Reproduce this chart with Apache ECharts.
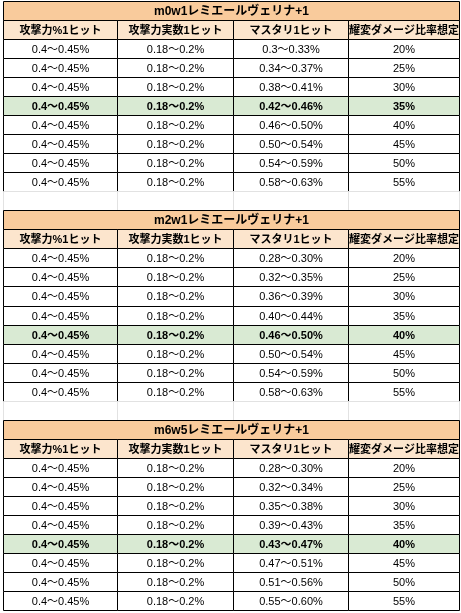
<!DOCTYPE html>
<html><head><meta charset="utf-8">
<script src="https://cdn.jsdelivr.net/npm/echarts@6/dist/echarts.min.js"></script>
<style>html,body{margin:0;padding:0;background:#fff}#c{width:461px;height:613px}</style>
</head><body><div id="c"></div>
<script>
const titles = ["m0w1レミエールヴェリナ+1", "m2w1レミエールヴェリナ+1", "m6w5レミエールヴェリナ+1"];
const headers = ["攻撃力%1ヒット", "攻撃力実数1ヒット", "マスタリ1ヒット", "耀変ダメージ比率想定"];
const atkPct = ["0.4〜0.45%","0.4〜0.45%","0.4〜0.45%","0.4〜0.45%","0.4〜0.45%","0.4〜0.45%","0.4〜0.45%","0.4〜0.45%"];
const atkFlat = ["0.18〜0.2%","0.18〜0.2%","0.18〜0.2%","0.18〜0.2%","0.18〜0.2%","0.18〜0.2%","0.18〜0.2%","0.18〜0.2%"];
const mastery1 = ["0.3〜0.33%","0.34〜0.37%","0.38〜0.41%","0.42〜0.46%","0.46〜0.50%","0.50〜0.54%","0.54〜0.59%","0.58〜0.63%"];
const mastery2 = ["0.28〜0.30%","0.32〜0.35%","0.36〜0.39%","0.40〜0.44%","0.46〜0.50%","0.50〜0.54%","0.54〜0.59%","0.58〜0.63%"];
const mastery3 = ["0.28〜0.30%","0.32〜0.34%","0.35〜0.38%","0.39〜0.43%","0.43〜0.47%","0.47〜0.51%","0.51〜0.56%","0.55〜0.60%"];
const ratios = ["20%","25%","30%","35%","40%","45%","50%","55%"];
const highlightRows = [3, 4, 4];
const masteries = [mastery1, mastery2, mastery3];

// cells: [col, row, span, text, kind]
const cells = [];
let r = 0;
for (let t = 0; t < 3; t++) {
  if (t > 0) { for (let c = 0; c < 4; c++) cells.push([c, r, 1, "", "gap"]); r++; }
  cells.push([0, r, 4, titles[t], "title"]); r++;
  headers.forEach((h, c) => cells.push([c, r, 1, h, "header"])); r++;
  for (let i = 0; i < 8; i++) {
    const kind = i === highlightRows[t] ? "hl" : "data";
    const vals = [atkPct[i], atkFlat[i], masteries[t][i], ratios[i]];
    vals.forEach((v, c) => cells.push([c, r, 1, v, kind]));
    r++;
  }
}
const totalRows = r;
const colEdges = [0, 1.0, 2.02, 3.03, 4.0];

const fills = {title: "#f9cb9c", header: "#fce5cd", hl: "#d9ead3", data: "#ffffff", gap: "#ffffff"};
const chart = echarts.init(document.getElementById('c'));
chart.setOption({
  animation: false,
  grid: {left: 3, right: 2, top: 1, bottom: 3},
  xAxis: {type: 'value', min: 0, max: 4, show: false},
  yAxis: {type: 'value', min: 0, max: totalRows, inverse: true, show: false},
  series: [{
    type: 'custom',
    data: cells,
    renderItem: function (params, api) {
      const c = api.value(0), row = api.value(1), span = api.value(2);
      const kind = cells[params.dataIndex][4];
      const text = cells[params.dataIndex][3];
      const p0 = api.coord([colEdges[c], row]);
      const p1 = api.coord([colEdges[c + span], row + 1]);
      const x = Math.round(p0[0]) + 0.5, y = Math.round(p0[1]) + 0.5;
      const w = Math.round(p1[0]) - Math.round(p0[0]), h = Math.round(p1[1]) - Math.round(p0[1]);
      const gap = kind === 'gap';
      const bold = kind !== 'data';
      return {
        type: 'group',
        children: [
          {type: 'rect', shape: {x: x, y: y, width: w, height: h},
           style: {fill: fills[kind], stroke: gap ? '#e2e2e2' : '#000', lineWidth: 1}},
          {type: 'text', style: {text: text, x: x + w / 2, y: y + h / 2 + 0.5, align: 'center', verticalAlign: 'middle',
            fill: '#000', font: (bold ? 'bold ' : '') + (kind === 'title' ? '12px' : '11px') + ' Arial, "Noto Sans CJK JP", sans-serif'}}
        ]
      };
    }
  }]
});
</script></body></html>
